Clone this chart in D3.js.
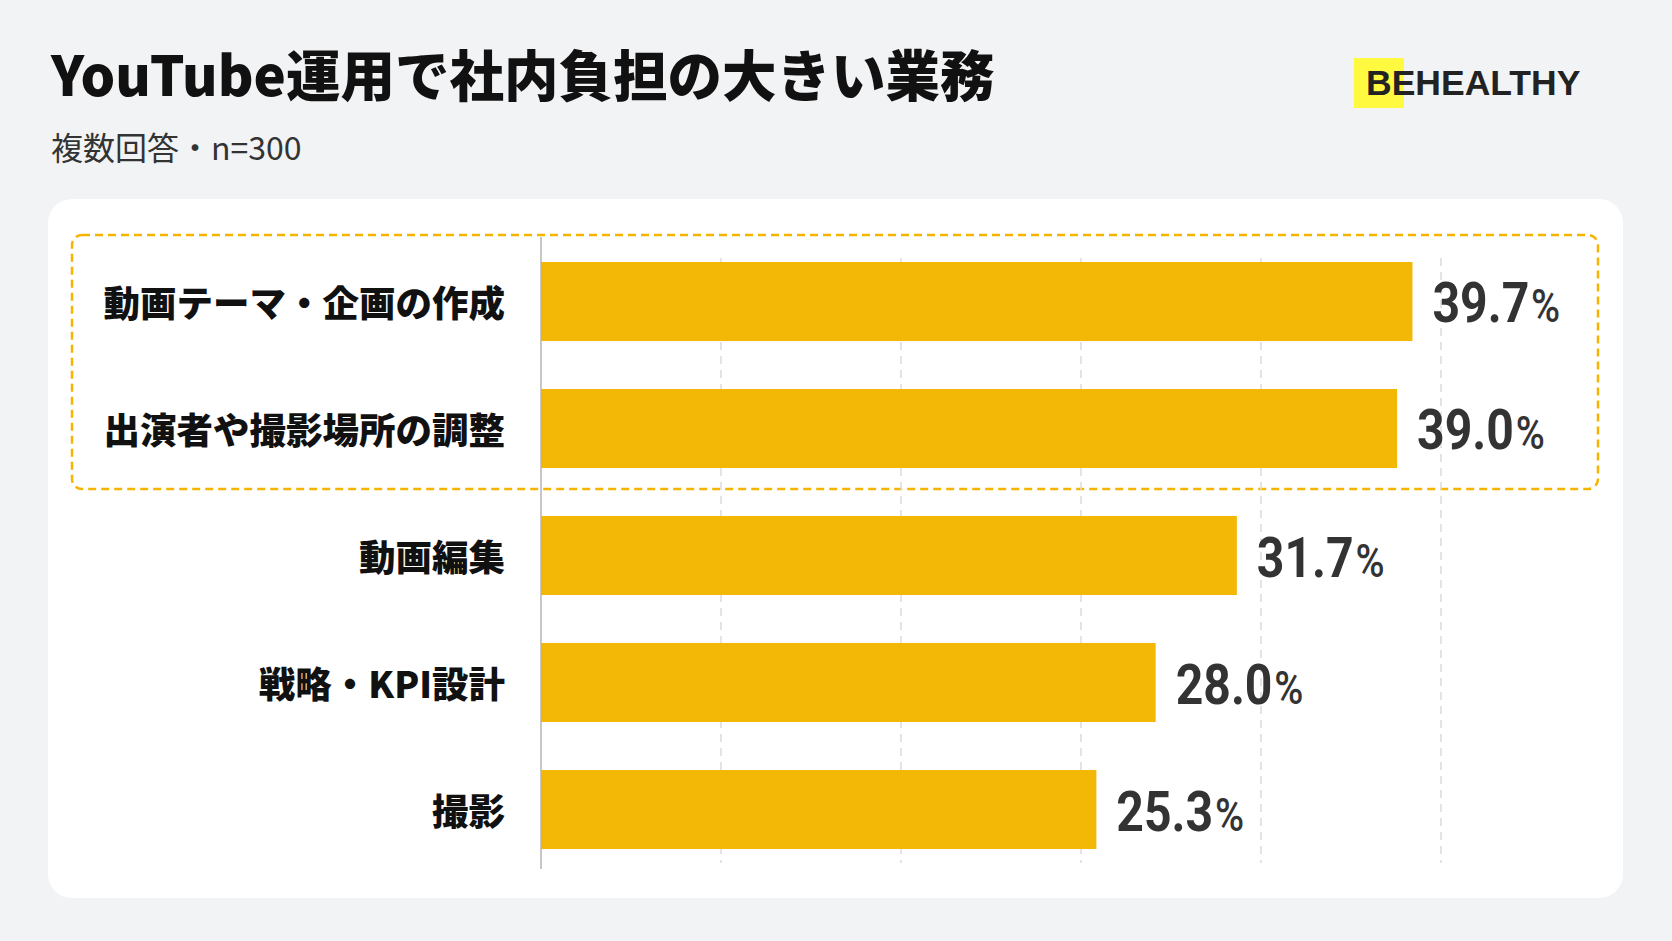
<!DOCTYPE html>
<html>
<head>
<meta charset="utf-8">
<script src="https://cdn.jsdelivr.net/npm/d3@7"></script>
<style>
  body { margin: 0; background: #f2f3f5; }
  svg { display: block; }
</style>
</head>
<body>
<div id="chart"></div>
<script>
// --- Data ---
const categories = [
  "動画テーマ・企画の作成",
  "出演者や撮影場所の調整",
  "動画編集",
  "戦略・KPI設計",
  "撮影"
];
const values = [39.7, 39.0, 31.7, 28.0, 25.3];
const highlighted = ["動画テーマ・企画の作成", "出演者や撮影場所の調整"];
const xMax = 41;
const gridCount = 5;

const titleText = "YouTube運用で社内負担の大きい業務";
const subtitleText = "複数回答・n=300";
const logoText = "BEHEALTHY";

const data = categories.map((c, i) => ({ cat: c, val: values[i] }));

// --- Canvas ---
const W = 1672, H = 941;
const svg = d3.select("#chart")
  .append("svg")
    .attr("width", W)
    .attr("height", H);

svg.append("rect")
  .attr("width", W).attr("height", H)
  .attr("fill", "#f2f3f5");

// --- Header ---
svg.append("text")
  .attr("x", 51).attr("y", 96)
  .style("font-family", "'Noto Sans CJK JP', sans-serif")
  .style("font-size", "54.5px")
  .style("font-weight", 900)
  .attr("fill", "#111")
  .text(titleText);

svg.append("text")
  .attr("x", 51).attr("y", 160)
  .style("font-family", "'Noto Sans CJK JP', sans-serif")
  .style("font-size", "32px")
  .style("font-weight", 400)
  .attr("fill", "#333")
  .text(subtitleText);

// logo
svg.append("rect")
  .attr("x", 1354).attr("y", 58)
  .attr("width", 50).attr("height", 50)
  .attr("fill", "#fff93f");

svg.append("text")
  .attr("x", 1366).attr("y", 95)
  .style("font-family", "'Liberation Sans', Arial, sans-serif")
  .style("font-size", "35.5px")
  .style("font-weight", 700)
  .attr("fill", "#222")
  .text(logoText);

// --- Card ---
svg.append("rect")
  .attr("x", 48).attr("y", 199)
  .attr("width", 1575).attr("height", 699)
  .attr("rx", 24)
  .attr("fill", "#fff");

// --- Scales ---
const x = d3.scaleLinear()
  .domain([0, xMax])
  .range([541, 1441]);

const y = d3.scaleBand()
  .domain(categories)
  .range([262, 849])
  .paddingInner(0.378)
  .paddingOuter(0);

// --- Highlight box ---
const hlTop = y(highlighted[0]) - 27;
const hlBottom = y(highlighted[highlighted.length - 1]) + y.bandwidth() + 21;
svg.append("rect")
  .attr("x", 72).attr("y", hlTop)
  .attr("width", 1526).attr("height", hlBottom - hlTop)
  .attr("rx", 10)
  .attr("fill", "none")
  .attr("stroke", "#f5b400")
  .attr("stroke-width", 2.5)
  .attr("stroke-dasharray", "8 5");

// --- Gridlines ---
const gridVals = d3.range(1, gridCount + 1).map(i => xMax * i / gridCount);
svg.append("g")
  .selectAll("line")
  .data(gridVals)
  .join("line")
    .attr("x1", d => x(d)).attr("x2", d => x(d))
    .attr("y1", 258).attr("y2", 863)
    .attr("stroke", "#dcdcdc")
    .attr("stroke-width", 1.5)
    .attr("stroke-dasharray", "8 6");

// --- Bars ---
svg.append("g")
  .selectAll("rect")
  .data(data)
  .join("rect")
    .attr("x", x(0))
    .attr("y", d => y(d.cat))
    .attr("width", d => x(d.val) - x(0))
    .attr("height", y.bandwidth())
    .attr("fill", "#f3b705");

// --- Axis line ---
svg.append("line")
  .attr("x1", x(0)).attr("x2", x(0))
  .attr("y1", 237).attr("y2", 869)
  .attr("stroke", "#b4b4b4")
  .attr("stroke-width", 1.5);

// --- Category labels ---
svg.append("g")
  .selectAll("text")
  .data(data)
  .join("text")
    .attr("x", 505)
    .attr("y", d => y(d.cat) + y.bandwidth() / 2)
    .attr("text-anchor", "end")
    .attr("dominant-baseline", "central")
    .style("font-family", "'Noto Sans CJK JP', sans-serif")
    .style("font-size", "36.5px")
    .style("font-weight", 900)
    .attr("fill", "#111")
    .text(d => d.cat);

// --- Value labels ---
const vl = svg.append("g")
  .selectAll("g")
  .data(data)
  .join("g")
    .attr("transform", d =>
      `translate(${x(d.val) + 20},${y(d.cat) + y.bandwidth() / 2 + 21}) scale(0.86,1)`);

const vt = vl.append("text")
  .style("font-family", "Roboto, sans-serif")
  .style("font-weight", 700)
  .attr("fill", "#333");

vt.append("tspan")
  .style("font-size", "56px")
  .text(d => d.val.toFixed(1));

vt.append("tspan")
  .attr("dx", 2)
  .style("font-size", "46px")
  .style("font-weight", 500)
  .text("%");
</script>
</body>
</html>
